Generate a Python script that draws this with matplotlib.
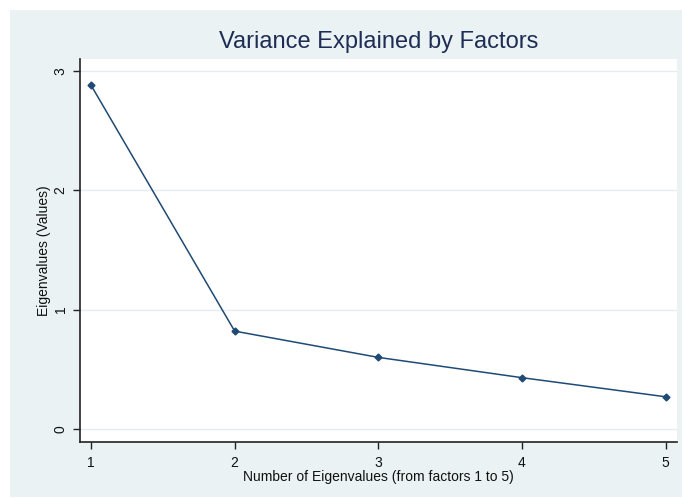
import matplotlib
matplotlib.use("Agg")
import matplotlib.pyplot as plt
from matplotlib.patches import Rectangle

# Scree plot data
factors = [1, 2, 3, 4, 5]
eigenvalues = [2.88, 0.82, 0.60, 0.43, 0.27]
y_ticks = [0, 1, 2, 3]
x_ticks = [1, 2, 3, 4, 5]

title = "Variance Explained by Factors"
x_label = "Number of Eigenvalues (from factors 1 to 5)"
y_label = "Eigenvalues (Values)"

plt.rcParams["font.family"] = ["Liberation Sans", "DejaVu Sans"]

W, H = 682, 499
fig = plt.figure(figsize=(W / 100, H / 100), dpi=100)
fig.patch.set_facecolor("white")

# graph region background
bg = "#EAF2F3"
fig.patches.append(Rectangle((10 / W, 2 / H), (W - 10) / W, (H - 12) / H,
                             transform=fig.transFigure, facecolor=bg,
                             edgecolor="none", zorder=-10))

ax = fig.add_axes([80 / W, (H - 442) / H, (677 - 80) / W, (442 - 59) / H])
ax.set_facecolor("white")

navy = "#1F4A73"
ax.plot(factors, eigenvalues, color=navy, linewidth=1.1, marker="D",
        markersize=3.5, markerfacecolor=navy, markeredgecolor=navy, zorder=3)

ax.set_xlim(0.923, 5.08)
ax.set_ylim(-0.109, 3.10)
ax.set_xticks(x_ticks)
ax.set_yticks(y_ticks)
ax.set_yticklabels([str(t) for t in y_ticks], rotation=90, va="center")

ax.grid(axis="y", color="#E3EDF0", linewidth=1.0, zorder=0)
ax.set_axisbelow(True)

for side in ("top", "right"):
    ax.spines[side].set_visible(False)
for side in ("left", "bottom"):
    ax.spines[side].set_color("#222222")
    ax.spines[side].set_linewidth(1.2)

ax.tick_params(axis="both", direction="out", length=5, width=1.0,
               color="#222222", labelsize=10, labelcolor="#111111")
ax.tick_params(axis="x", pad=5)
ax.tick_params(axis="y", pad=4)

ax.set_xlabel(x_label, fontsize=10, color="#111111", labelpad=0)
ax.set_ylabel(y_label, fontsize=10, color="#111111", labelpad=2)

fig.text((80 + 677) / 2 / W, 1 - 42 / H, title, ha="center", va="center",
         fontsize=17, color="#1E2D55")

fig.savefig("out.png", dpi=100, facecolor=fig.get_facecolor())
